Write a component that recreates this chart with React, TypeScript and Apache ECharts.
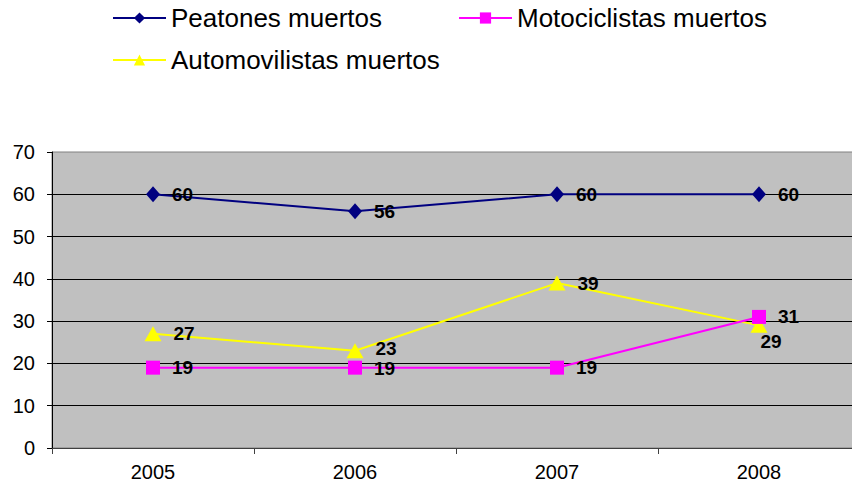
import React, { useEffect, useRef } from "react";
import * as echarts from "echarts";

const years = ["2005", "2006", "2007", "2008"];
const peatones = [60, 56, 60, 60];
const motociclistas = [19, 19, 19, 31];
const automovilistas = [27, 23, 39, 29];
const seriesNames = ["Peatones muertos", "Motociclistas muertos", "Automovilistas muertos"];

const FONT = "'Liberation Sans', Arial, sans-serif";

export default function App() {
  const ref = useRef<HTMLDivElement>(null);
  useEffect(() => {
    if (!ref.current) return;
    const chart = echarts.init(ref.current, undefined, { renderer: "svg" });
    const labelBase = {
      show: true,
      position: "right" as const,
      distance: 12,
      color: "#000",
      fontFamily: FONT,
      fontSize: 19,
      lineHeight: 18,
      fontWeight: "bold" as const,
    };
    const legendText = { color: "#000", fontFamily: FONT, fontSize: 26 };
    const legendCommon = {
      itemWidth: 53,
      itemHeight: 14,
      itemGap: 0,
      padding: 0,
      textStyle: legendText,
    };
    chart.setOption({
      animation: false,
      backgroundColor: "#fff",
      legend: [
        { ...legendCommon, data: [seriesNames[0]], left: 112, top: 5 },
        { ...legendCommon, data: [seriesNames[1]], left: 458, top: 5 },
        { ...legendCommon, data: [seriesNames[2]], left: 112, top: 47 },
      ],
      grid: {
        left: 52,
        top: 152,
        bottom: 43,
        right: 0,
        show: true,
        backgroundColor: "#C0C0C0",
        borderColor: "#808080",
        borderWidth: 1,
        containLabel: false,
      },
      xAxis: {
        type: "category",
        data: years,
        boundaryGap: true,
        axisLine: { lineStyle: { color: "#404040", width: 1 } },
        axisTick: { show: true, length: 6, lineStyle: { color: "#404040" } },
        axisLabel: { color: "#000", fontFamily: FONT, fontSize: 20, margin: 14 },
        splitLine: { show: false },
      },
      yAxis: {
        type: "value",
        min: 0,
        max: 70,
        interval: 10,
        axisLine: { show: true, lineStyle: { color: "#000", width: 1 } },
        axisTick: { show: true, length: 5, lineStyle: { color: "#000" } },
        axisLabel: { color: "#000", fontFamily: FONT, fontSize: 20, margin: 17 },
        splitLine: {
          show: true,
          showMinLine: false,
          showMaxLine: false,
          lineStyle: { color: "#000", width: 1 },
        },
      },
      series: [
        {
          name: seriesNames[0],
          type: "line",
          data: peatones,
          symbol: "diamond",
          symbolSize: [14, 16],
          lineStyle: { color: "#000080", width: 2 },
          itemStyle: { color: "#000080" },
          label: labelBase,
          z: 3,
        },
        {
          name: seriesNames[1],
          type: "line",
          data: motociclistas.map((v, i) =>
            i === 1 ? { value: v, label: { offset: [0, 1] } } : v
          ),
          symbol: "rect",
          symbolSize: 14,
          lineStyle: { color: "#FF00FF", width: 2 },
          itemStyle: { color: "#FF00FF" },
          label: labelBase,
          z: 3,
        },
        {
          name: seriesNames[2],
          type: "line",
          data: automovilistas.map((v, i) =>
            i === 3
              ? { value: v, label: { position: "bottom", distance: 0, offset: [12, 0] } }
              : i === 1
              ? { value: v, label: { offset: [0, -2] } }
              : v
          ),
          symbol: "triangle",
          symbolSize: [17, 15],
          lineStyle: { color: "#FFFF00", width: 2 },
          itemStyle: { color: "#FFFF00" },
          label: labelBase,
          z: 2,
        },
      ],
    });
    return () => chart.dispose();
  }, []);
  return (
    <div
      ref={ref}
      style={{ position: "fixed", left: 0, top: 0, width: 860, height: 491 }}
    />
  );
}
